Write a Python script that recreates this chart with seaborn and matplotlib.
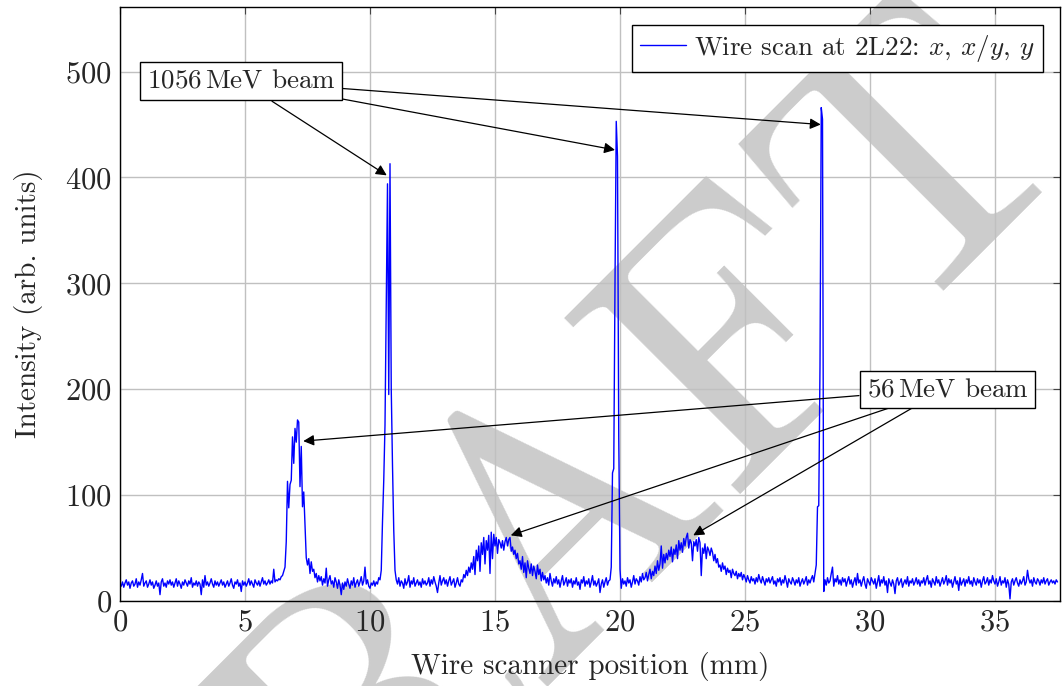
import numpy as np
import pandas as pd
import seaborn as sns
import matplotlib.pyplot as plt

# Wire scan intensity, sampled every 0.05 mm, split in 5 mm chunks
scan_step = 0.05
seg_starts = [0.0, 5.0, 10.0, 15.0, 20.0, 25.0, 30.0, 35.0]

seg_00 = [16, 14, 18, 13, 17, 20, 15, 18, 12, 17, 19, 14, 16, 21, 13, 18, 15, 20, 26, 14,
          17, 19, 13, 16, 20, 15, 18, 12, 15, 19, 14, 17, 6, 18, 21, 14, 17, 13, 19, 16,
          20, 15, 18, 13, 17, 21, 14, 19, 16, 12, 18, 15, 20, 17, 14, 19, 16, 22, 13, 17,
          15, 19, 14, 18, 16, 6, 20, 13, 24, 15, 18, 14, 17, 21, 16, 13, 19, 15, 18, 14,
          17, 20, 15, 18, 13, 16, 19, 14, 17, 21, 15, 12, 18, 16, 20, 14, 17, 9, 19, 15]
seg_05 = [18, 14, 17, 21, 15, 19, 16, 13, 20, 17, 15, 19, 14, 18, 22, 16, 19, 15, 17, 20,
          16, 19, 17, 30, 18, 20, 19, 21, 20, 23, 24, 28, 32, 56, 113, 88, 110, 114, 155, 130,
          163, 150, 171, 169, 108, 146, 89, 103, 73, 41, 34, 40, 26, 37, 28, 30, 22, 26, 18, 24,
          19, 23, 15, 21, 17, 31, 14, 20, 24, 16, 19, 13, 22, 18, 12, 20, 15, 6, 17, 11,
          18, 14, 21, 16, 12, 19, 15, 22, 13, 17, 20, 14, 18, 23, 15, 19, 32, 16, 20, 14]
seg_10 = [12, 17, 15, 19, 14, 18, 16, 22, 20, 29, 75, 114, 166, 280, 394, 195, 413, 200, 128, 67,
          29, 20, 16, 22, 14, 19, 17, 12, 21, 15, 18, 24, 13, 19, 16, 22, 14, 17, 20, 15,
          18, 13, 21, 16, 19, 15, 17, 22, 14, 20, 16, 23, 18, 14, 8, 17, 24, 15, 19, 22,
          16, 20, 14, 19, 23, 15, 18, 21, 13, 17, 22, 16, 14, 20, 18, 25, 22, 29, 24, 32,
          27, 36, 30, 42, 25, 48, 38, 52, 28, 55, 44, 60, 35, 57, 48, 62, 26, 65, 40, 63]
seg_15 = [52, 60, 45, 58, 55, 50, 57, 48, 56, 60, 52, 58, 60, 47, 51, 44, 48, 40, 45, 35,
          38, 30, 42, 27, 36, 22, 38, 31, 26, 35, 24, 33, 28, 21, 34, 25, 30, 19, 27, 20,
          24, 17, 22, 15, 26, 19, 14, 21, 17, 23, 16, 20, 13, 19, 24, 15, 18, 22, 14, 20,
          17, 21, 13, 19, 16, 22, 15, 18, 11, 20, 17, 23, 14, 19, 16, 21, 13, 18, 24, 15,
          19, 14, 17, 21, 8, 16, 20, 13, 18, 22, 15, 19, 20, 32, 121, 125, 300, 453, 420, 155]
seg_20 = [30, 12, 21, 16, 19, 14, 22, 17, 20, 13, 18, 24, 16, 21, 19, 15, 23, 18, 26, 20,
          22, 27, 19, 25, 30, 21, 28, 24, 33, 26, 38, 29, 35, 52, 31, 44, 36, 45, 39, 48,
          42, 51, 37, 49, 44, 53, 40, 57, 48, 55, 46, 59, 52, 60, 64, 50, 58, 55, 38, 56,
          52, 58, 47, 60, 55, 24, 50, 45, 54, 40, 51, 48, 43, 50, 46, 38, 44, 36, 40, 32,
          34, 28, 36, 30, 33, 25, 31, 27, 29, 22, 30, 26, 24, 28, 21, 26, 23, 27, 20, 25]
seg_25 = [22, 18, 24, 20, 17, 23, 19, 21, 16, 22, 18, 25, 20, 17, 23, 19, 15, 21, 18, 22,
          17, 20, 23, 16, 19, 14, 21, 18, 22, 15, 20, 17, 24, 19, 13, 21, 18, 16, 22, 19,
          15, 20, 17, 22, 14, 18, 21, 16, 19, 23, 15, 20, 17, 21, 24, 18, 26, 34, 89, 90,
          222, 466, 455, 9, 20, 15, 22, 17, 19, 26, 32, 14, 21, 18, 24, 16, 20, 15, 22, 18,
          21, 14, 19, 23, 16, 20, 13, 18, 22, 15, 26, 17, 20, 14, 19, 23, 16, 12, 21, 18]
seg_30 = [15, 22, 19, 16, 21, 12, 18, 24, 14, 20, 17, 23, 15, 19, 8, 21, 17, 14, 20, 16,
          7, 19, 22, 15, 18, 21, 13, 17, 20, 16, 23, 14, 19, 17, 21, 15, 18, 22, 16, 20,
          14, 19, 17, 22, 15, 20, 24, 16, 19, 13, 21, 18, 15, 23, 17, 20, 14, 18, 22, 16,
          19, 24, 15, 21, 17, 20, 13, 18, 23, 16, 19, 10, 22, 15, 18, 21, 14, 20, 17, 23,
          16, 19, 14, 22, 18, 15, 21, 17, 20, 13, 19, 23, 16, 18, 22, 15, 20, 17, 24, 19]
seg_35 = [16, 21, 14, 18, 23, 15, 19, 17, 22, 13, 20, 16, 2, 18, 21, 15, 19, 22, 17, 14,
          20, 16, 19, 23, 15, 18, 29, 21, 17, 20, 14, 22, 18, 16, 21, 19, 15, 20, 17, 22,
          16, 19, 21, 15, 18, 20, 17, 19, 16, 20, 18]

segments = [seg_00, seg_05, seg_10, seg_15, seg_20, seg_25, seg_30, seg_35]

xticks = [0, 5, 10, 15, 20, 25, 30, 35]
yticks = [0, 100, 200, 300, 400, 500]

legend_label = "Wire scan at 2L22: $x$, $x/y$, $y$"

# build the table
frames = []
for start, vals in zip(seg_starts, segments):
    pos = start + scan_step * np.arange(len(vals))
    frames.append(pd.DataFrame({"position": pos, "intensity": vals}))
df = pd.concat(frames, ignore_index=True)

sns.set_theme(style="whitegrid")
plt.rcParams["font.family"] = "serif"
plt.rcParams["font.serif"] = ["cmr10"]
plt.rcParams["mathtext.fontset"] = "cm"
plt.rcParams["axes.formatter.use_mathtext"] = True
plt.rcParams["axes.unicode_minus"] = False

fig = plt.figure(figsize=(10.63, 6.86), dpi=100, facecolor="white")
ax = fig.add_axes([120 / 1063, 85 / 686, 940 / 1063, 594 / 686])
ax.set_facecolor("none")

# DRAFT watermark behind everything (roman, 45 deg, mostly off the corners)
fig.text(0.581, 0.118, "DRAFT", rotation=45, rotation_mode="anchor",
         fontsize=262, color="0.8", ha="center", va="baseline", zorder=-5)

sns.lineplot(data=df, x="position", y="intensity", ax=ax, color="blue",
             lw=1.0, label=legend_label, errorbar=None, sort=False)

ax.set_xlim(0, 37.6)
ax.set_ylim(0, 561)
ax.set_xticks(xticks)
ax.set_yticks(yticks)
ax.grid(True, color="#c0c0c0", lw=1.0)
for s in ax.spines.values():
    s.set_color("black")
    s.set_linewidth(1.0)
ax.tick_params(direction="in", length=5, width=0.8, color="#444444",
               top=True, right=True, labelsize=22, pad=6)

ax.set_xlabel("Wire scanner position (mm)", fontsize=21, labelpad=11)
ax.set_ylabel("Intensity (arb. units)", fontsize=21, labelpad=16)

leg = ax.legend(loc="upper right", bbox_to_anchor=(0.982, 0.97), borderaxespad=0,
                fontsize=19.5, frameon=True, fancybox=False, framealpha=1,
                handlelength=1.7, handletextpad=0.3, borderpad=0.3)
leg.get_frame().set_edgecolor("black")
leg.get_frame().set_linewidth(1.0)

box = dict(boxstyle="square,pad=0.25", fc="white", ec="black", lw=1.0)
arrow = dict(arrowstyle="-|>", color="black", lw=0.9, mutation_scale=16,
             shrinkA=0, shrinkB=0)

# 1056 MeV labels
ax.text(4.84, 491, "1056$\\,$MeV beam", fontsize=19.5, ha="center", va="center",
        bbox=box, zorder=6)
ax.annotate("", xy=(10.67, 402), xytext=(6.08, 472), arrowprops=arrow, zorder=5)
ax.annotate("", xy=(19.8, 426), xytext=(8.92, 474), arrowprops=arrow, zorder=5)
ax.annotate("", xy=(28.03, 450), xytext=(8.92, 484), arrowprops=arrow, zorder=5)

# 56 MeV labels
ax.text(33.1, 200, "56$\\,$MeV beam", fontsize=19.5, ha="center", va="center",
        bbox=box, zorder=6)
ax.annotate("", xy=(7.33, 151), xytext=(29.56, 194), arrowprops=arrow, zorder=5)
ax.annotate("", xy=(15.63, 62), xytext=(30.73, 182), arrowprops=arrow, zorder=5)
ax.annotate("", xy=(22.93, 62), xytext=(31.67, 182), arrowprops=arrow, zorder=5)

plt.savefig("out.png", dpi=100, facecolor="white")
